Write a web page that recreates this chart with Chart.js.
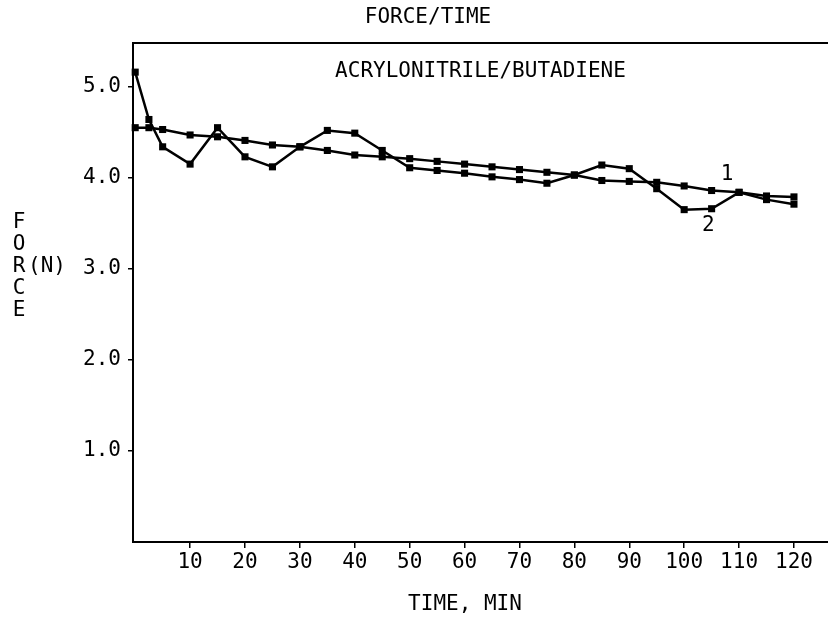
<!DOCTYPE html>
<html>
<head>
<meta charset="utf-8">
<title>FORCE/TIME</title>
<script src="https://cdn.jsdelivr.net/npm/chart.js@4"></script>
<style>
  html, body { margin: 0; padding: 0; background: #fff; }
  #chart { display: block; }
</style>
</head>
<body>
<canvas id="chart" width="828" height="622"></canvas>
<script>
// time in minutes, force in N
const times = [0, 2.5, 5, 10, 15, 20, 25, 30, 35, 40, 45, 50, 55, 60, 65, 70, 75, 80, 85, 90, 95, 100, 105, 110, 115, 120];
const force1 = [4.55, 4.55, 4.53, 4.47, 4.45, 4.41, 4.36, 4.34, 4.30, 4.25, 4.23, 4.21, 4.18, 4.15, 4.12, 4.09, 4.06, 4.03, 3.97, 3.96, 3.95, 3.91, 3.86, 3.84, 3.80, 3.79];
const force2 = [5.16, 4.64, 4.34, 4.15, 4.55, 4.23, 4.12, 4.34, 4.52, 4.49, 4.30, 4.11, 4.08, 4.05, 4.01, 3.98, 3.94, 4.03, 4.14, 4.10, 3.88, 3.65, 3.66, 3.84, 3.76, 3.71];
const xTicks = [10, 20, 30, 40, 50, 60, 70, 80, 90, 100, 110, 120];
const yTicks = [1, 2, 3, 4, 5];
const seriesNames = ["1", "2"];
// where the curve numbers sit, in data units
const namePos = [[107.8, 4.04], [104.4, 3.47]];

const FONT = "'DejaVu Sans Mono', monospace";
const toPts = ys => times.map((t, i) => ({ x: t, y: ys[i] }));

const textPlugin = {
  id: "texts",
  afterDraw(chart) {
    const ctx = chart.ctx;
    const a = chart.chartArea;
    const sx = chart.scales.x, sy = chart.scales.y;
    ctx.save();
    ctx.fillStyle = "#000";
    ctx.strokeStyle = "#000";
    // top frame line
    ctx.lineWidth = 2;
    ctx.beginPath();
    ctx.moveTo(a.left, a.top);
    ctx.lineTo(a.right, a.top);
    ctx.stroke();

    ctx.font = "21px " + FONT;
    ctx.textAlign = "center";
    ctx.textBaseline = "middle";
    ctx.fillText("FORCE/TIME", 428, 18);
    ctx.fillText("ACRYLONITRILE/BUTADIENE", (a.left + a.right) / 2, a.top + 29);
    ctx.fillText("TIME, MIN", 465, 605);

    // stacked y title
    "FORCE".split("").forEach((c, i) => ctx.fillText(c, 19, 223 + i * 22));
    ctx.fillText("(N)", 47, 267);

    seriesNames.forEach((n, i) => {
      ctx.fillText(n, sx.getPixelForValue(namePos[i][0]), sy.getPixelForValue(namePos[i][1]));
    });
    ctx.restore();
  }
};

const ds = (data) => ({
  data: data,
  borderColor: "#000",
  backgroundColor: "#000",
  borderWidth: 2.5,
  pointStyle: "rect",
  pointRadius: 5,
  pointBorderWidth: 0,
  tension: 0,
  clip: false
});

new Chart(document.getElementById("chart"), {
  type: "line",
  data: { datasets: [ds(toPts(force1)), ds(toPts(force2))] },
  options: {
    responsive: false,
    devicePixelRatio: 1,
    animation: false,
    events: [],
    layout: { autoPadding: false, padding: { top: 43, left: 0, right: 0, bottom: 0 } },
    plugins: { legend: { display: false }, tooltip: { enabled: false }, title: { display: false } },
    scales: {
      x: {
        type: "linear",
        min: -0.4,
        max: 126.2,
        afterBuildTicks: s => { s.ticks = xTicks.map(v => ({ value: v })); },
        afterFit: s => { s.height = 80; s.paddingLeft = 0; s.paddingRight = 0; },
        border: { display: true, color: "#000", width: 2 },
        grid: { display: true, drawOnChartArea: false, drawTicks: true, tickLength: 6, color: "#000", lineWidth: 1.5 },
        ticks: { color: "#000", font: { family: FONT, size: 21 }, padding: 2, maxRotation: 0 },
        title: { display: false }
      },
      y: {
        type: "linear",
        min: 0,
        max: 5.48,
        afterBuildTicks: s => { s.ticks = yTicks.map(v => ({ value: v })); },
        afterFit: s => { s.width = 133; s.paddingTop = 0; s.paddingBottom = 0; },
        border: { display: true, color: "#000", width: 2 },
        grid: { display: true, drawOnChartArea: false, drawTicks: true, tickLength: 5, color: "#000", lineWidth: 1.5 },
        ticks: { color: "#000", font: { family: FONT, size: 21 }, padding: 7, callback: v => v.toFixed(1) }
      }
    }
  },
  plugins: [textPlugin]
});
</script>
</body>
</html>
